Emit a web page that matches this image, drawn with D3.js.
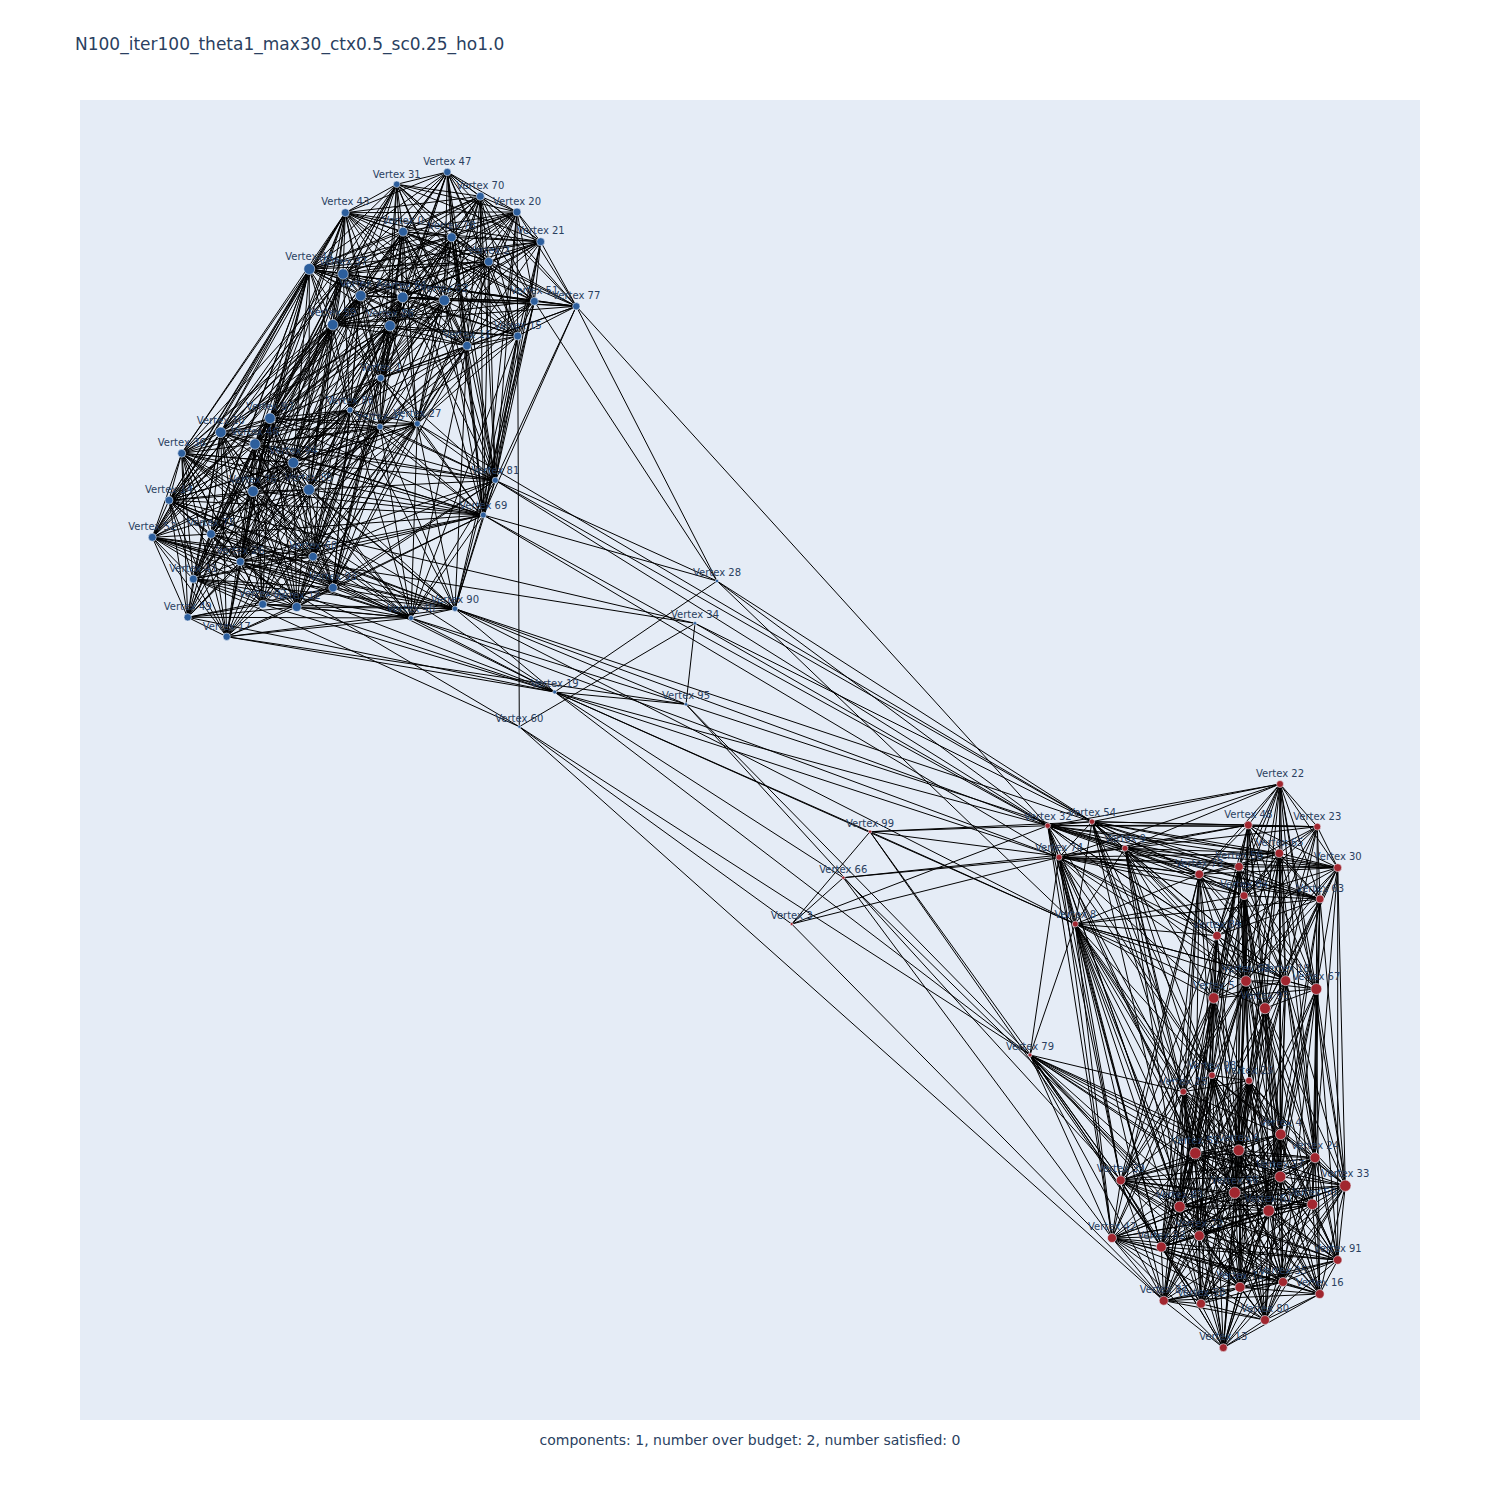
<!DOCTYPE html>
<html><head><meta charset="utf-8">
<script src="https://cdn.jsdelivr.net/npm/d3@7"></script>
<style>body{margin:0;background:#fff}svg{display:block}</style>
</head><body>
<svg id="chart" width="1500" height="1500"></svg>
<script>
// ---- data ----
const chartTitle = "N100_iter100_theta1_max30_ctx0.5_sc0.25_ho1.0";
const footerText = "components: 1, number over budget: 2, number satisfied: 0";

const blueId = [47,31,70,43,20,0,78,21,2,44,37,7,64,62,51,77,59,86,15,11,1,88,97,45,27,10,46,36,94,81,14,76,85,69,52,75,26,68,41,93,92,12,40,90,49,17,28,34,19,95,60];
const blueX = [367.3,316.7,400.3,265.3,437,323,371.7,460.7,408.7,229.3,263,280.7,322.7,364.3,454.3,496.3,252.7,310,437.7,387,300.7,270,190,300,337.3,140.7,175,101.7,213.3,415.3,89,173,229,403.3,72.3,131,160.3,233,113.3,253,182.7,216.7,331,375,107.7,146.7,637,615,474.7,606,439.3];
const blueY = [1248,1235.7,1223.7,1207.3,1208,1188.3,1182.7,1178.3,1158.3,1151,1146,1124.3,1122.7,1119.7,1118.7,1113.7,1095.3,1094.3,1084,1074.3,1042,1010,1001.7,993.3,996.3,987.7,976,966.7,957.3,939.7,919.7,928.7,930.3,905,882.7,886,858.3,863.3,841,832.3,815.7,813,802,811.3,802.7,783.3,839,796.7,728,715.7,693.3];
const blueSize = [7.4,6.6,8,8,8,9,9,8,8.6,11,10.6,10.6,10.6,10.6,8,7.4,10.6,10.6,8,8.6,7,6,10.6,6,6,10.6,10.6,8,10.6,6,8,10.6,11,6,8,8.6,8,8.6,8,8.6,8,9,5,5.4,7.4,7.4,3.4,3.4,4,3.4,3];

const redId = [99,66,3,79,22,32,54,48,23,9,74,65,56,30,73,84,63,8,89,53,18,67,5,96,98,29,25,4,55,6,24,57,39,33,58,83,61,50,42,72,82,91,35,71,16,87,38,80,13];
const redX = [790,763.3,711.7,950,1200,967.7,1012,1168.3,1237.3,1045,979,1199.3,1159,1257.7,1119.3,1164,1240,995.3,1137,1166,1205.7,1236.3,1133.7,1185,1132,1169,1103.3,1200.7,1115.3,1158.7,1235,1200.3,1040.7,1265.3,1154.7,1099.7,1188.7,1232.3,1032,1119.3,1081.3,1257.7,1203,1160,1239.7,1083.7,1121,1185,1143.3];
const redY = [588.3,542.3,496,365,636,594.3,598.3,595,593.3,571.7,562.7,566.7,553.3,552.3,545.7,524.3,521,496,484.3,439,439.3,431,422,411.7,344.7,339.3,328.3,285.7,266.7,269.7,262.3,243.3,239.7,234.3,227.3,213.3,209.3,215.7,182,184.3,173,160,138,132.7,126,119.3,116.3,100,72.3];
const redSize = [3.4,3.4,3,4,7,5.4,5.4,8,7,6,6,8.6,8.6,8,8.6,8,8,6,8.6,10.6,10,11,10.6,11,6.6,7,6.6,10.6,11.4,11,10,11,9,11.4,11.4,11,11.4,10.6,9,10,10,8.6,9,10,9,9,9,9,8];

// adjacency lists
const edgesBlueTop = "47:31,70,43,20,0,78,21,2,44,37,7,64,62,51,59,86,11,15,1,77;31:70,43,20,0,78,2,44,37,7,64,62,86,59,21,51,11,15,1;70:43,20,0,78,21,2,37,64,62,51,77,86,11,15,44,7,59,1;43:20,0,78,21,44,37,7,64,62,59,86,11,1,2,51,15;20:0,78,21,2,62,51,77,15,11,44,37,7,64,86,59;0:78,21,2,44,37,7,64,62,51,59,86,11,1,15,77;78:21,2,44,37,7,64,62,51,77,59,86,15,1,11;21:2,51,77,15,11,64,44,7,37,62,86,59,1;2:44,37,7,64,62,51,77,86,15,11,59,1;44:37,7,64,62,51,59,86,15,11,1,77;37:7,64,62,51,77,59,86,11,1;7:64,62,51,59,86,11,1;64:62,51,77,59,86,15,11,1;62:51,77,59,86,15,11,1;51:77,15,11,59,1;77:15,11,59,1;59:86,11,1,15;86:15,11,1;15:11,1;11:1";
const edgesBlueLeft = "88:97,45,27,10,46,94,81,76,85,69,68,93,36,12,26,14,75,41,40,90;97:45,27,10,46,36,94,14,76,85,52,75,26,68,41,12,17,93,92,49,69,81;45:27,10,46,94,81,76,85,69,26,68,93,40,90,12,41,92,17,49;27:46,94,81,85,69,68,93,40,90,12,26,76,14,17;10:46,36,94,14,76,85,52,75,26,41,92,49,17,68,93,12,81,69;46:36,94,14,76,85,52,75,26,68,41,93,92,12,49,17,81,69,40,90;36:94,14,76,85,52,75,26,41,92,12,49,17,81,69,93,68,40;94:14,76,85,69,52,75,26,68,41,93,92,12,40,90,49,17;81:85,69,93,68,40,90,26,12;14:76,85,52,75,26,41,92,12,49,17,69,68,93,40,90;76:85,52,75,26,68,41,93,92,12,49,17,69,90,40;85:69,75,26,68,41,93,92,12,40,90,17,49,52,14;69:68,93,12,40,90,26,75,41;52:75,26,41,92,12,49,17,40,93,68,90;75:26,68,41,93,92,12,49,17,40,90;26:68,41,93,92,12,49,17,40,90;68:93,92,12,40,90,41;41:92,12,49,17,93,40,90;93:12,40,90,92,49,17;92:12,49,17,40,90;12:40,90,49,17;40:90,49,17;90:17;49:17";
const edgesBlueCross = "44:10,97,46,36,14,76,94,52,85,26,75,41,88;43:10,97,36,46,94,76,85,14,52;59:10,97,46,94,76,85,14,36,88,26,75,41,52,68;37:97,46,94,85,88,45,10,36,76,14,52,26;7:97,10,94,85,76,88,45,26,46,36,14,52,75,68,93;64:88,45,27,94,85,81,97,46,76,10,68,93;86:88,45,27,97,46,94,85,76,68,36,10,14,26,93;62:88,81,69,27,45,85,94,76,97,46,68,93;11:81,69,27,88,45,93,85,94,68,12,40,90;15:81,69,90,40,27,45;51:81,69,90,27,45;21:81,69;20:81,69,27;2:81,69,27,88,45;1:88,45,27,97,46,94,85,76,68,93,81,69,12;0:81,69,88,45,27,97,94;78:81,69,45,88,27,94,85;31:46,97,10;47:69,81;70:81,69,27;77:69,81";
const edgesMiddle = "28:77,81,19,32,8,54,69,51;34:60,95,54,32,52,14;19:95,14,52,17,49,36,12,92,40,90,8,32,79,66,74;95:40,90,79,39,9,17;60:15,3,87,79,41,26;99:3,8,32,73,39,82,54,19;66:3,74,9,42,83;3:74,32,87;79:8,74,39,42,82,87,83,55,72,58,61,38,71,35,50,57,6,25,95;69:32,74;81:54,32;90:32,54,8;40:74;27:54;77:32";
const edgesRedTop = "22:48,23,65,56,30,84,63,54,32,53,18,89,9,73,74,67;32:54,9,74,48,65,56,73,84,89,30,8,23,63,18,53;54:9,74,48,65,56,30,73,23,8,84,63,53,18,89;48:23,65,56,30,73,84,63,89,53,18,9,74,5,96,67;23:65,56,30,84,63,18,67,9,53,96,5;9:74,65,56,73,84,89,30,63,53,5,18;74:8,73,65,56,84,89,63,30,53,5,18;65:56,30,73,84,63,89,53,18,67,5,96;56:30,73,84,63,89,53,18,67,5,96;30:73,84,63,18,67,96,53,5,89;73:84,89,53,5,63,18,67,96;84:63,89,53,18,67,5,96;63:89,53,18,67,96;8:73,89,53,5,84,9,18,67,96,63;89:53,18,5,96;53:18,67,5,96;18:67,5,96;67:96,5";
const edgesRedBottom = "98:29,25,4,55,6,58,83,61,72,82,35,71,38,80,13,87,24,33,57,91,16;29:25,4,55,6,24,57,58,61,50,35,71,16,80,39,83,72,82,91,33,87,38,13;25:55,6,39,58,83,72,82,87,38,42,4,61,50,71,35,13,80;4:55,6,24,57,33,58,61,50,91,35,16,39,83,72,82,71,80,13,38;55:6,57,39,58,83,61,42,72,82,35,71,87,38,13,24,33,50,91,80,16;6:24,57,33,58,83,61,50,72,91,35,71,80,38,39,42,82,16,13,87;24:57,33,58,61,50,91,35,16,80,39,83,72,82,71,13,38;57:33,58,61,50,72,91,35,71,16,80,39,83,42,82,87,38,13;39:58,83,42,72,82,87,38,71,13,61,50,35,16,91;33:58,61,50,91,35,16,80,71,83,72,82,38,13;58:83,61,50,42,72,82,91,35,71,16,87,38,80,13;83:61,42,72,82,87,38,71,13,35,50,91,16,80;61:50,72,91,35,71,16,80,38,13,82;50:91,35,71,16,80,72;42:72,82,87,38,13,71,61,50,35,16,91,80;72:82,91,35,71,87,38,80,13;82:35,71,87,38,80,13,50,91,16;91:35,16,80,71;35:71,16,80,38,13;71:16,87,38,80,13;16:80,13;87:38,13,80,35,16,91,50;38:80,13;80:13";
const edgesRedCross = "53:98,29,25,4,55,6,58,57,61,24,83,39,72,82;18:29,4,6,57,24,33,61,50,91,58,55;67:4,24,33,57,50,91,16,61,58,6,35;5:98,25,55,83,58,72,87,6,82,39,57,61,42;96:29,4,6,57,61,58,55,50,35,71,24,33;89:98,25,55,83,58,72,39,6;84:98,29,4,57,61,58,71;65:29,4,57,6,24;56:98,29,55,6,58,83;73:98,25,55,83,39,42,82;63:4,24,33,57,50;30:33,24,91;8:25,39,42,82,87,83,55,72,58,38,71,98,6,61;74:39,42,82,98,25,83,55;32:39,42,82,83,55,98;54:98,25,55,83,58;9:25,55,83,72,58,98;48:4,6;22:4,29,24,33";

// ---- build ----
const nodes = [];
blueId.forEach((id,i)=>nodes.push({id, x:blueX[i], y:blueY[i], s:blueSize[i], team:"blue"}));
redId.forEach((id,i)=>nodes.push({id, x:redX[i], y:redY[i], s:redSize[i], team:"red"}));
const byId = new Map(nodes.map(n=>[n.id,n]));

const edgeSet = new Set(); const edges = [];
[edgesBlueTop,edgesBlueLeft,edgesBlueCross,edgesMiddle,edgesRedTop,edgesRedBottom,edgesRedCross].forEach(str=>{
  str.split(";").forEach(part=>{
    const [a,list] = part.split(":");
    list.split(",").forEach(b=>{
      const u=+a, v=+b; if(u===v) return;
      const key = Math.min(u,v)+"-"+Math.max(u,v);
      if(edgeSet.has(key)) return;
      if(!byId.has(u)||!byId.has(v)) return;
      edgeSet.add(key); edges.push([byId.get(u),byId.get(v)]);
    });
  });
});

const svg = d3.select("#chart");
const plot = {left:80, top:100, right:1420, bottom:1420};
const x = d3.scaleLinear().domain([0,1340]).range([plot.left, plot.right]);
const y = d3.scaleLinear().domain([0,1320]).range([plot.bottom, plot.top]);
const sz = d3.scaleLinear().domain([0,12]).range([0,6]);
const color = d3.scaleOrdinal().domain(["blue","red"]).range(["#2c5e9c","#a1262f"]);

svg.append("rect").attr("x",0).attr("y",0).attr("width",1500).attr("height",1500).attr("fill","#fff");
svg.append("rect").attr("x",plot.left).attr("y",plot.top)
  .attr("width",plot.right-plot.left).attr("height",plot.bottom-plot.top).attr("fill","#E5ECF6");

svg.append("g").selectAll("line").data(edges).join("line")
  .attr("x1",d=>x(d[0].x)).attr("y1",d=>y(d[0].y))
  .attr("x2",d=>x(d[1].x)).attr("y2",d=>y(d[1].y))
  .attr("stroke","#000").attr("stroke-width",1);

svg.append("g").selectAll("circle").data(nodes).join("circle")
  .attr("cx",d=>x(d.x)).attr("cy",d=>y(d.y)).attr("r",d=>sz(d.s))
  .attr("fill",d=>color(d.team))
  .attr("stroke","rgba(235,240,250,0.75)").attr("stroke-width",0.8);

svg.append("g").selectAll("text").data(nodes).join("text")
  .attr("x",d=>x(d.x)).attr("y",d=>y(d.y)-sz(d.s)-3.5)
  .attr("text-anchor","middle")
  .attr("font-family","'DejaVu Sans', sans-serif").attr("font-size",10)
  .attr("fill","#2a3f5f")
  .text(d=>"Vertex "+d.id);

svg.append("text").attr("x",75).attr("y",50)
  .attr("font-family","'DejaVu Sans', sans-serif").attr("font-size",17)
  .attr("fill","#2a3f5f").text(chartTitle);

svg.append("text").attr("x",750).attr("y",1445).attr("text-anchor","middle")
  .attr("font-family","'DejaVu Sans', sans-serif").attr("font-size",14)
  .attr("fill","#2a3f5f").text(footerText);
</script>
</body></html>
